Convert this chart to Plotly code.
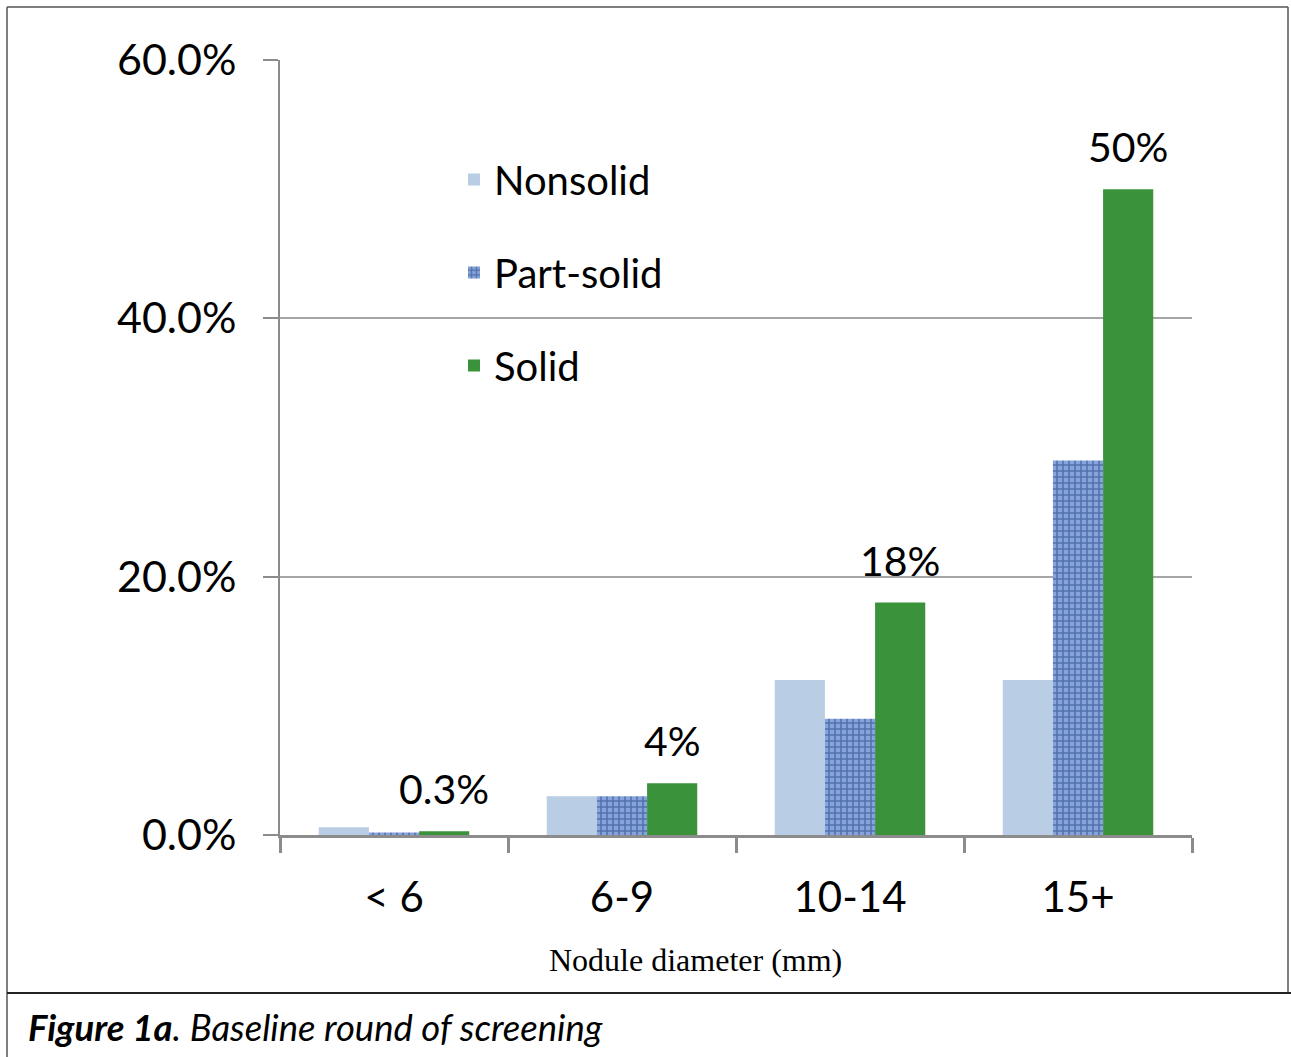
import plotly.graph_objects as go

categories = ["< 6", "6-9", "10-14", "15+"]
nonsolid = [0.006, 0.03, 0.12, 0.12]
part_solid = [0.002, 0.03, 0.09, 0.29]
solid = [0.003, 0.04, 0.18, 0.50]
solid_labels = ["0.3%", "4%", "18%", "50%"]
y_ticks = [0, 0.2, 0.4, 0.6]

W, H = 1291, 1057
L, R, T, B = 280, 1192, 60, 835
BARGAP = 0.34

FONT = "Lato"
fig = go.Figure()
fig.add_trace(go.Bar(name="Nonsolid", x=categories, y=nonsolid,
                     marker=dict(color="#b9cde5", line=dict(width=0)),
                     legendgroup="a"))
fig.add_trace(go.Bar(name="Part-solid", x=categories, y=part_solid,
                     marker=dict(color="#7f9fd6", line=dict(width=0),
                                 pattern=dict(shape="+", fgcolor="#1f3f7d", bgcolor="#86a4db",
                                              size=6, solidity=0.45)),
                     legendgroup="b"))
fig.add_trace(go.Bar(name="Solid", x=categories, y=solid,
                     marker=dict(color="#3a933b", line=dict(width=0)),
                     legendgroup="c"))

def px_x(px):
    return (px - L) / (R - L)

def px_y(py):
    return (B - py) / (B - T)

# data labels above the Solid bars (third bar of each group)
cat_px = (R - L) / len(categories)
bar_px = cat_px * (1 - BARGAP) / 3
annotations = []
for c, v, lab in zip(categories, solid, solid_labels):
    annotations.append(dict(x=c, y=v, xref="x", yref="y", text=lab, showarrow=False,
                            xanchor="center", yanchor="bottom", xshift=bar_px, yshift=16,
                            font=dict(family=FONT, size=41, color="black")))

annotations.append(dict(xref="paper", yref="paper", x=px_x(695), y=px_y(960),
                        xanchor="center", yanchor="middle", showarrow=False,
                        text="Nodule diameter (mm)",
                        font=dict(family="Liberation Serif", size=32, color="black")))

annotations.append(dict(xref="paper", yref="paper", x=px_x(26), y=px_y(1027),
                        xanchor="left", yanchor="middle", showarrow=False,
                        text="<b><i>Figure 1a</i></b><i>. Baseline round of screening</i>",
                        font=dict(family=FONT, size=36.5, color="black")))

shapes = []
line = dict(color="#555555", width=1.5)
shapes.append(dict(type="line", xref="paper", yref="paper", x0=px_x(7), x1=px_x(7), y0=px_y(7), y1=px_y(1057), line=line))
shapes.append(dict(type="line", xref="paper", yref="paper", x0=px_x(7), x1=px_x(1288), y0=px_y(7), y1=px_y(7), line=line))
shapes.append(dict(type="line", xref="paper", yref="paper", x0=px_x(1288), x1=px_x(1288), y0=px_y(7), y1=px_y(993), line=line))
shapes.append(dict(type="line", xref="paper", yref="paper", x0=px_x(7), x1=px_x(1291), y0=px_y(993), y1=px_y(993), line=dict(color="#222222", width=2)))

fig.update_layout(
    width=W, height=H,
    margin=dict(l=L, r=W - R, t=T, b=H - B, autoexpand=False),
    paper_bgcolor="white", plot_bgcolor="white",
    barmode="group", bargap=BARGAP, bargroupgap=0,
    font=dict(family=FONT, color="black"),
    showlegend=True,
    legend=dict(x=px_x(454), y=px_y(147), xanchor="left", yanchor="top",
                font=dict(family=FONT, size=40, color="black"),
                bgcolor="rgba(0,0,0,0)", tracegroupgap=38, itemwidth=30),
    xaxis=dict(showline=True, linecolor="#8c8c8c", linewidth=2.5,
               ticks="outside", ticklen=15, tickcolor="#8c8c8c", tickwidth=2.5,
               tickson="boundaries", ticklabelstandoff=24,
               tickfont=dict(family=FONT, size=42, color="black")),
    yaxis=dict(range=[0, 0.6], tickvals=y_ticks, tickformat=".1%",
               showline=True, linecolor="#8c8c8c", linewidth=2,
               ticks="outside", ticklen=15, tickcolor="#8c8c8c", tickwidth=2,
               showgrid=True, gridcolor="#a6a6a6", gridwidth=2,
               zeroline=False,
               tickfont=dict(family=FONT, size=43, color="black"),
               ticklabelstandoff=18),
    shapes=shapes,
    annotations=annotations,
)

fig.write_html("out.html", config={"displayModeBar": False},
               post_script="document.body.style.margin='0';document.body.style.overflow='hidden';")
